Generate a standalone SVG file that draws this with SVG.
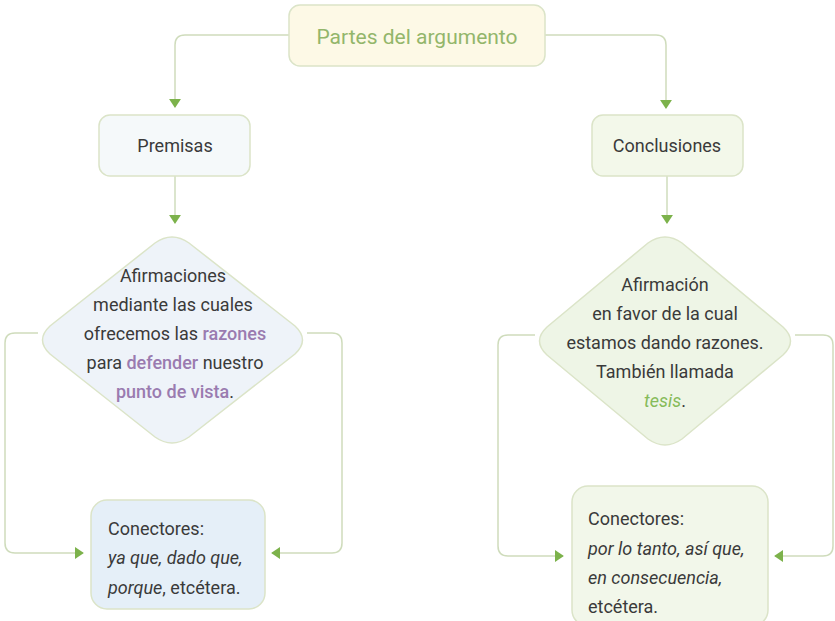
<svg xmlns="http://www.w3.org/2000/svg" width="835" height="621" viewBox="0 0 835 621">
<defs>
<marker id="arr" viewBox="0 0 10 10" refX="9" refY="5" markerWidth="9" markerHeight="12" markerUnits="userSpaceOnUse" orient="auto" preserveAspectRatio="none">
<path d="M0,0 L10,5 L0,10 Z" fill="#7cb24b"/>
</marker>
<style>
.t{font-family:Roboto,"Liberation Sans",sans-serif;font-size:18px;fill:#3a3a3a;}
.c{text-anchor:middle;}
.p{fill:#9a7bb0;font-weight:500;}
.g{fill:#86bb5a;font-style:italic;}
.i{font-style:italic;}
.ln{fill:none;stroke:#cfdcbc;stroke-width:1.5;}
.box{stroke:#dbe4c8;stroke-width:1.5;}
</style>
</defs>
<rect width="835" height="621" fill="#ffffff"/>
<g id="connectors">
<path class="ln" d="M289,35 H185 Q175,35 175,45 V107" marker-end="url(#arr)"/>
<path class="ln" d="M545,35 H656 Q666,35 666,45 V108" marker-end="url(#arr)"/>
<path class="ln" d="M175,176 V223" marker-end="url(#arr)"/>
<path class="ln" d="M667,176 V223" marker-end="url(#arr)"/>
<path class="ln" d="M38,333 H15 Q5,333 5,343 V543 Q5,553 15,553 H83" marker-end="url(#arr)"/>
<path class="ln" d="M307,333 H332 Q342,333 342,343 V543 Q342,553 332,553 H272" marker-end="url(#arr)"/>
<path class="ln" d="M535,335 H508 Q498,335 498,345 V546 Q498,556 508,556 H563" marker-end="url(#arr)"/>
<path class="ln" d="M795,335 H823 Q833,335 833,345 V546 Q833,556 823,556 H775" marker-end="url(#arr)"/>
</g>
<g id="title">
<rect class="box" x="289" y="5" width="256" height="61" rx="11" fill="#fdf9e6"/>
<text class="t c" x="417" y="44" style="font-size:21px;fill:#93b66b">Partes del argumento</text>
</g>
<g id="premisas">
<rect class="box" x="99" y="115" width="151" height="61" rx="11" fill="#f5f9fa"/>
<text class="t c" x="175" y="152">Premisas</text>
</g>
<g id="conclusiones">
<rect class="box" x="592" y="115" width="151" height="61" rx="11" fill="#f3f8ea"/>
<text class="t c" x="667" y="152">Conclusiones</text>
</g>
<g id="premisas-def">
<path class="box" d="M155,243 Q172,231 189,243 L295,326 Q310,340 295,354 L189,437 Q172,449 155,437 L50,354 Q35,340 50,326 Z" fill="#eef3f9"/>
<text class="t c" x="173" y="282">Afirmaciones</text>
<text class="t c" x="173" y="311">mediante las cuales</text>
<text class="t c" x="175" y="340">ofrecemos las <tspan class="p">razones</tspan></text>
<text class="t c" x="175" y="369">para <tspan class="p">defender</tspan> nuestro</text>
<text class="t c" x="175" y="398"><tspan class="p">punto de vista</tspan>.</text>
</g>
<g id="conclusiones-def">
<path class="box" d="M648,243 Q665,231 682,243 L783,327 Q798,341 783,355 L682,439 Q665,451 648,439 L547,355 Q532,341 547,327 Z" fill="#eef5e6"/>
<text class="t c" x="665" y="291">Afirmación</text>
<text class="t c" x="665" y="320">en favor de la cual</text>
<text class="t c" x="665" y="349">estamos dando razones.</text>
<text class="t c" x="665" y="378">También llamada</text>
<text class="t c" x="665" y="407"><tspan class="g">tesis</tspan>.</text>
</g>
<g id="conectores-premisas">
<rect class="box" x="91" y="500" width="174" height="109" rx="16" fill="#e5eff8"/>
<text class="t" x="108" y="535">Conectores:</text>
<text class="t" x="108" y="564"><tspan class="i">ya que, dado que,</tspan></text>
<text class="t" x="108" y="594"><tspan class="i">porque</tspan>, etcétera.</text>
</g>
<g id="conectores-conclusiones">
<rect class="box" x="572" y="486" width="196" height="140" rx="16" fill="#f2f7ea"/>
<text class="t" x="588" y="525">Conectores:</text>
<text class="t" x="588" y="555"><tspan class="i">por lo tanto, así que,</tspan></text>
<text class="t" x="588" y="584"><tspan class="i">en consecuencia,</tspan></text>
<text class="t" x="588" y="613">etcétera.</text>
</g>
</svg>
